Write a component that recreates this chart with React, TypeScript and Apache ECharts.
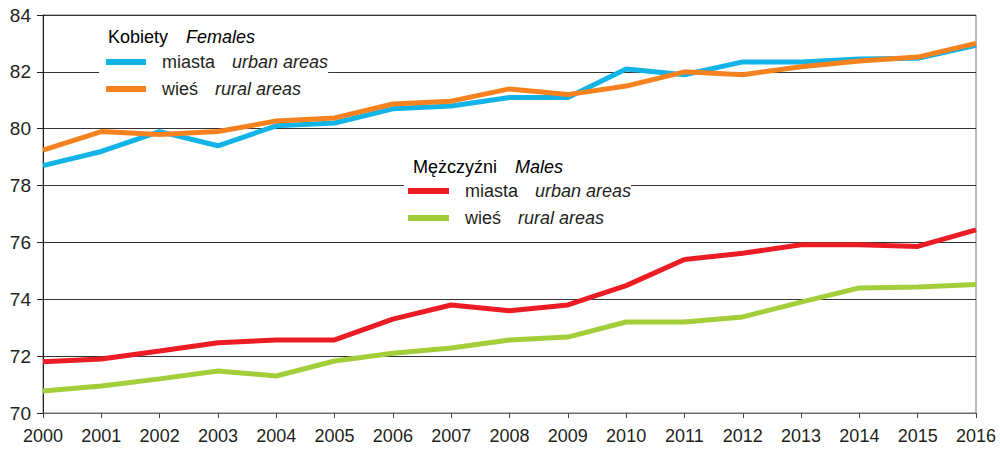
import React, { useEffect, useRef } from "react";
import * as echarts from "echarts";

const years = ["2000","2001","2002","2003","2004","2005","2006","2007","2008","2009","2010","2011","2012","2013","2014","2015","2016"];
const femalesUrban = [78.7, 79.2, 79.9, 79.4, 80.1, 80.2, 80.7, 80.8, 81.1, 81.1, 82.1, 81.9, 82.35, 82.35, 82.45, 82.48, 82.93];
const femalesRural = [79.25, 79.9, 79.8, 79.9, 80.27, 80.38, 80.87, 80.97, 81.4, 81.2, 81.5, 82.0, 81.9, 82.18, 82.38, 82.52, 83.0];
const malesUrban = [71.8, 71.9, 72.18, 72.47, 72.57, 72.57, 73.3, 73.8, 73.6, 73.8, 74.48, 75.4, 75.62, 75.92, 75.92, 75.86, 76.44];
const malesRural = [70.77, 70.95, 71.2, 71.48, 71.3, 71.83, 72.1, 72.29, 72.57, 72.67, 73.2, 73.2, 73.38, 73.9, 74.4, 74.43, 74.52];

const seriesNames = ["K_miasta", "K_wies", "M_miasta", "M_wies"];
const labelsPl = ["miasta", "wieś", "miasta", "wieś"];
const labelsEn = ["urban areas", "rural areas", "urban areas", "rural areas"];
const colors = ["#12b4e8", "#f5821f", "#ec1c24", "#a3cd39"];
const headers = [["Kobiety", "Females"], ["Mężczyźni", "Males"]];

const FONT = "'Liberation Sans', Arial, Helvetica, sans-serif";
const TXT = "#231f20";

export default function App() {
  const ref = useRef<HTMLDivElement>(null);
  useEffect(() => {
    if (!ref.current) return;
    const chart = echarts.init(ref.current, undefined, { renderer: "svg" });
    const rich = {
      a: { fontFamily: FONT, fontSize: 18, color: TXT, padding: [0, 0, 0, 11] },
      b: { fontFamily: FONT, fontSize: 18, color: TXT, fontStyle: "italic", padding: [0, 0, 0, 17] },
    };
    const hrich = {
      a: { fontFamily: FONT, fontSize: 18, color: TXT },
      b: { fontFamily: FONT, fontSize: 18, color: TXT, fontStyle: "italic", padding: [0, 0, 0, 18] },
    };
    const fmt = (name: string) => {
      const i = seriesNames.indexOf(name);
      return `{a|${labelsPl[i]}}{b|${labelsEn[i]}}`;
    };
    const data = [femalesUrban, femalesRural, malesUrban, malesRural];
    chart.setOption({
      animation: false,
      backgroundColor: "#ffffff",
      textStyle: { fontFamily: FONT },
      grid: { left: 43, right: 24, top: 15, bottom: 36, show: true, borderColor: "#777", borderWidth: 1, backgroundColor: "transparent" },
      xAxis: {
        type: "category",
        data: years,
        boundaryGap: false,
        axisLine: { lineStyle: { color: "#666", width: 1 } },
        axisTick: { show: true, length: 5, lineStyle: { color: "#444" } },
        axisLabel: { fontFamily: FONT, fontSize: 18, color: TXT, margin: 14 },
        splitLine: { show: false },
      },
      yAxis: {
        type: "value",
        min: 70,
        max: 84,
        interval: 2,
        axisLine: { show: true, lineStyle: { color: "#231f20", width: 1 } },
        axisTick: { show: true, length: 6, lineStyle: { color: "#231f20" } },
        axisLabel: { fontFamily: FONT, fontSize: 19, color: TXT, margin: 12 },
        splitLine: { show: true, lineStyle: { color: "#333", width: 1 } },
      },
      legend: [
        {
          data: seriesNames.slice(0, 2),
          orient: "vertical",
          left: 99,
          top: 48,
          padding: [5, 0, 5, 7],
          backgroundColor: "#ffffff",
          icon: "rect",
          itemWidth: 40,
          itemHeight: 6,
          itemGap: 9,
          formatter: fmt,
          textStyle: { fontFamily: FONT, fontSize: 18, lineHeight: 18, color: TXT, rich },
          selectedMode: false,
        },
        {
          data: seriesNames.slice(2, 4),
          orient: "vertical",
          left: 404,
          top: 177,
          padding: [5, 0, 5, 4],
          backgroundColor: "#ffffff",
          icon: "rect",
          itemWidth: 41,
          itemHeight: 6,
          itemGap: 9,
          formatter: fmt,
          textStyle: { fontFamily: FONT, fontSize: 18, lineHeight: 18, color: TXT, rich },
          selectedMode: false,
        },
      ],
      graphic: [
        {
          type: "text",
          x: 108,
          y: 37,
          style: { text: `{a|${headers[0][0]}}{b|${headers[0][1]}}`, rich: hrich, verticalAlign: "middle" },
        },
        {
          type: "text",
          x: 413,
          y: 167,
          style: { text: `{a|${headers[1][0]}}{b|${headers[1][1]}}`, rich: hrich, verticalAlign: "middle" },
        },
      ],
      series: seriesNames.map((n, i) => ({
        name: n,
        type: "line",
        data: data[i],
        symbol: "none",
        showSymbol: false,
        color: colors[i],
        lineStyle: { color: colors[i], width: 5 },
        z: 3 + i,
      })),
    });
    return () => chart.dispose();
  }, []);
  return <div ref={ref} style={{ position: "fixed", left: 0, top: 0, width: 1000, height: 449 }} />;
}
